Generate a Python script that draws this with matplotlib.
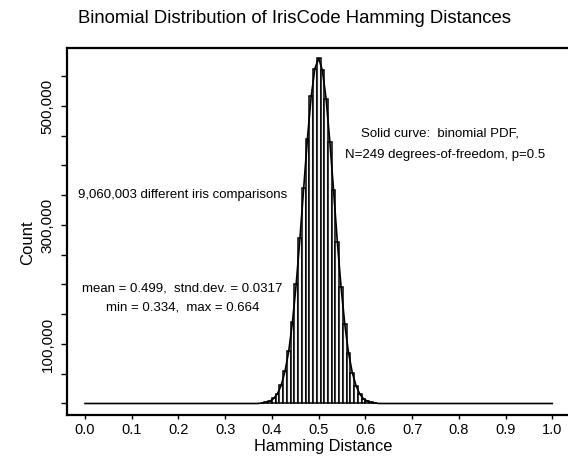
import matplotlib
matplotlib.use("Agg")
import matplotlib.pyplot as plt
from matplotlib.ticker import FixedLocator, FuncFormatter

plt.rcParams['font.family'] = ['Liberation Sans', 'DejaVu Sans']

# Histogram bin centres (Hamming distance) and counts
bin_centers = [0.380, 0.388, 0.396, 0.404, 0.412, 0.420, 0.428, 0.436, 0.444, 0.452,
               0.460, 0.468, 0.476, 0.484, 0.492, 0.500, 0.508, 0.516, 0.524, 0.532,
               0.540, 0.548, 0.556, 0.564, 0.572, 0.580, 0.588, 0.596, 0.604, 0.612,
               0.620]
counts = [1000, 2000, 4000, 8500, 16500, 31000, 54000, 88000, 137000, 201000,
          278000, 362000, 445000, 516000, 563000, 580000, 560000, 512000, 440000, 358000,
          272000, 196000, 133000, 85000, 52000, 30000, 16000, 8000, 4000, 1800,
          800]
bin_width = 0.008

# Binomial PDF curve (scaled): flat at zero outside the bars
curve_x = [0.0, 0.37] + bin_centers + [0.63, 1.0]
curve_y = [0, 0] + counts + [0, 0]

x_ticks = [0.0, 0.1, 0.2, 0.3, 0.4, 0.5, 0.6, 0.7, 0.8, 0.9, 1.0]
y_ticks = [0, 50000, 100000, 150000, 200000, 250000, 300000, 350000, 400000, 450000, 500000, 550000]
y_labeled = [100000, 300000, 500000]

fig = plt.figure(figsize=(5.68, 4.63), dpi=100)
ax = fig.add_axes([0.118, 0.1037, 0.902, 0.7937])

ax.bar(bin_centers, counts, width=bin_width, color='#f4f4f4', edgecolor='black',
       linewidth=1.1, zorder=2)
ax.plot(curve_x, curve_y, color='black', linewidth=1.2, zorder=3)

ax.set_xlim(-0.0385, 1.058)
ax.set_ylim(-19330, 598300)

ax.xaxis.set_major_locator(FixedLocator(x_ticks))
ax.xaxis.set_major_formatter(FuncFormatter(lambda v, p: f"{v:.1f}"))
ax.yaxis.set_major_locator(FixedLocator(y_ticks))
ax.yaxis.set_major_formatter(FuncFormatter(
    lambda v, p: f"{int(round(v)):,}" if int(round(v)) in y_labeled else ""))

ax.tick_params(axis='x', direction='out', length=3, width=1, labelsize=10.5, pad=2.5)
ax.tick_params(axis='y', direction='out', length=4, width=1, labelsize=11, pad=5)
for lab in ax.get_yticklabels():
    lab.set_rotation(90)
    lab.set_va('center')

for s in ax.spines.values():
    s.set_linewidth(1.6)

ax.set_xlabel("Hamming Distance", fontsize=11.8, labelpad=2)
ax.set_ylabel("Count", fontsize=12)
ax.yaxis.set_label_coords(-0.062, 0.47)

fig.text(0.518, 0.961, "Binomial Distribution of IrisCode Hamming Distances",
         ha='center', va='center', fontsize=13.3)

ax.text(0.208, 349600, "9,060,003 different iris comparisons", ha='center', va='center', fontsize=9.5)
ax.text(0.208, 194000, "mean = 0.499,  stnd.dev. = 0.0317", ha='center', va='center', fontsize=9.5)
ax.text(0.208, 162000, "min = 0.334,  max = 0.664", ha='center', va='center', fontsize=9.5)
ax.text(0.760, 454600, "Solid curve:  binomial PDF,", ha='center', va='center', fontsize=9.5)
ax.text(0.770, 417600, "N=249 degrees-of-freedom, p=0.5", ha='center', va='center', fontsize=9.5)

fig.savefig("out.png", dpi=100)
